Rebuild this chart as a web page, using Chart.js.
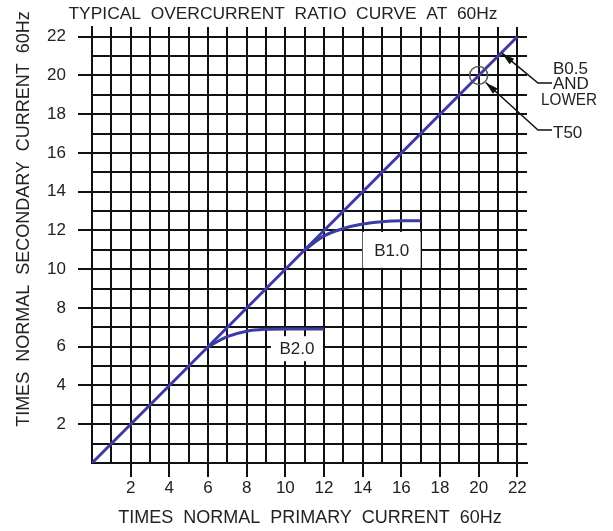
<!DOCTYPE html>
<html>
<head>
<meta charset="utf-8">
<title>Typical overcurrent ratio curve at 60Hz</title>
<script src="https://cdn.jsdelivr.net/npm/chart.js@4.4.0/dist/chart.umd.min.js"></script>
<style>
    html, body { margin: 0; padding: 0; background: #fff; }
    #wrap { width: 613px; height: 531px; }
</style>
</head>
<body>
<div id="wrap"><canvas id="ratioChart" width="613" height="531"></canvas></div>
<script>
// times normal primary current (x) vs times normal secondary current (y)
const diagX = [0, 22];
const diagY = [0, 22];
const b2X = [6, 7, 8, 9, 10, 11, 12];
const b2Y = [6, 6.52, 6.8, 6.9, 6.92, 6.92, 6.92];
const b1X = [11, 12, 13, 14, 15, 16, 17];
const b1Y = [11, 11.72, 12.1, 12.33, 12.45, 12.5, 12.5];
const xTickLabels = [2, 4, 6, 8, 10, 12, 14, 16, 18, 20, 22];
const yTickLabels = [2, 4, 6, 8, 10, 12, 14, 16, 18, 20, 22];
const t50Point = [20, 20];

const FAMILY = "'Liberation Sans', Arial, sans-serif";
const INK = '#222';
const GRID = '#111';
const BLUE = '#3b3ba6';

function toPoints(xs, ys) {
    return xs.map((x, i) => ({ x: x, y: ys[i] }));
}

function arrowLeader(ctx, tip, elbow, end) {
    ctx.save();
    ctx.strokeStyle = '#111';
    ctx.fillStyle = '#111';
    ctx.lineWidth = 1.5;
    ctx.beginPath();
    ctx.moveTo(tip[0], tip[1]);
    ctx.lineTo(elbow[0], elbow[1]);
    ctx.lineTo(end[0], end[1]);
    ctx.stroke();
    // arrowhead pointing at the tip
    const dx = elbow[0] - tip[0], dy = elbow[1] - tip[1];
    const len = Math.sqrt(dx * dx + dy * dy);
    const ux = dx / len, uy = dy / len;
    const bx = tip[0] + ux * 13, by = tip[1] + uy * 13;
    ctx.beginPath();
    ctx.moveTo(tip[0], tip[1]);
    ctx.lineTo(bx - uy * 3.5, by + ux * 3.5);
    ctx.lineTo(bx + uy * 3.5, by - ux * 3.5);
    ctx.closePath();
    ctx.fill();
    ctx.restore();
}

function boxedLabel(ctx, text, cx, cy, w, h) {
    ctx.save();
    ctx.fillStyle = '#fff';
    ctx.fillRect(cx - w / 2, cy - h / 2, w, h);
    ctx.fillStyle = INK;
    ctx.font = '17px ' + FAMILY;
    ctx.textAlign = 'center';
    ctx.textBaseline = 'middle';
    ctx.fillText(text, cx, cy + 1);
    ctx.restore();
}

const annotations = {
    id: 'annotations',
    afterDraw(chart) {
        const ctx = chart.ctx;
        const xs = chart.scales.x, ys = chart.scales.y;
        const X = v => xs.getPixelForValue(v);
        const Y = v => ys.getPixelForValue(v);

        ctx.save();
        ctx.fillStyle = INK;
        ctx.textBaseline = 'middle';
        ctx.textAlign = 'center';
        ctx.font = '17.4px ' + FAMILY;
        ctx.fillText('TYPICAL  OVERCURRENT  RATIO  CURVE  AT  60Hz', 283, 14);
        ctx.font = '18px ' + FAMILY;
        ctx.fillText('TIMES  NORMAL  PRIMARY  CURRENT  60Hz', 310, 518);

        ctx.save();
        ctx.translate(24, 219);
        ctx.rotate(-Math.PI / 2);
        ctx.fillText('TIMES  NORMAL  SECONDARY  CURRENT  60Hz', 0, 0);
        ctx.restore();

        // curve labels
        boxedLabel(ctx, 'B2.0', X(10.6), Y(5.9), 52, 25);
        boxedLabel(ctx, 'B1.0', X(15.5), Y(11.0), 58, 36);

        // T50 marker on the diagonal
        const cx = X(t50Point[0]), cy = Y(t50Point[1]);
        ctx.strokeStyle = '#555';
        ctx.lineWidth = 1.5;
        ctx.beginPath();
        ctx.arc(cx, cy, 9, 0, Math.PI * 2);
        ctx.stroke();

        arrowLeader(ctx, [X(21.2), Y(21.15)], [538, 83], [552, 83]);
        arrowLeader(ctx, [cx + 7, cy + 7], [538, 130], [552, 130]);

        ctx.fillStyle = INK;
        ctx.font = '17px ' + FAMILY;
        ctx.textAlign = 'left';
        ctx.fillText('B0.5', 553, 69);
        ctx.fillText('AND', 553, 84);
        ctx.save();
        ctx.translate(541, 100);
        ctx.scale(0.9, 1);
        ctx.fillText('LOWER', 0, 0);
        ctx.restore();
        ctx.fillText('T50', 553, 133);
        ctx.restore();
    }
};

function tickMarkColor(list) {
    return c => (c.tick && list.includes(c.tick.value)) ? GRID : 'rgba(0,0,0,0)';
}

const ctx = document.getElementById('ratioChart').getContext('2d');
const ratioChart = new Chart(ctx, {
    type: 'scatter',
    data: {
        datasets: [
            {
                label: 'B0.5 and lower',
                data: toPoints(diagX, diagY),
                showLine: true,
                borderColor: BLUE,
                borderWidth: 3,
                pointRadius: 0
            },
            {
                label: 'B2.0',
                data: toPoints(b2X, b2Y),
                showLine: true,
                borderColor: BLUE,
                borderWidth: 3,
                pointRadius: 0,
                cubicInterpolationMode: 'monotone'
            },
            {
                label: 'B1.0',
                data: toPoints(b1X, b1Y),
                showLine: true,
                borderColor: BLUE,
                borderWidth: 3,
                pointRadius: 0,
                cubicInterpolationMode: 'monotone'
            }
        ]
    },
    options: {
        responsive: false,
        animation: false,
        layout: {
            padding: { top: 27, right: 86, left: 0, bottom: 0 }
        },
        plugins: {
            legend: { display: false },
            tooltip: { enabled: false }
        },
        scales: {
            x: {
                type: 'linear',
                min: 0,
                max: 22.5,
                afterFit: s => { s.height = 68; },
                ticks: {
                    stepSize: 1,
                    includeBounds: false,
                    autoSkip: false,
                    maxRotation: 0,
                    padding: 1,
                    color: INK,
                    font: { family: FAMILY, size: 17 },
                    callback: v => xTickLabels.includes(v) ? String(v) : ''
                },
                grid: {
                    color: GRID,
                    lineWidth: 2,
                    tickLength: 14,
                    tickColor: tickMarkColor(xTickLabels)
                },
                border: { color: GRID, width: 2 }
            },
            y: {
                type: 'linear',
                min: 0,
                max: 22.5,
                afterFit: s => { s.width = 92; },
                ticks: {
                    stepSize: 1,
                    includeBounds: false,
                    autoSkip: false,
                    padding: 12,
                    color: INK,
                    font: { family: FAMILY, size: 17 },
                    callback: v => yTickLabels.includes(v) ? String(v) : ''
                },
                grid: {
                    color: GRID,
                    lineWidth: 2,
                    tickLength: 14,
                    tickColor: tickMarkColor(yTickLabels)
                },
                border: { color: GRID, width: 2 }
            }
        }
    },
    plugins: [annotations]
});
</script>
</body>
</html>
